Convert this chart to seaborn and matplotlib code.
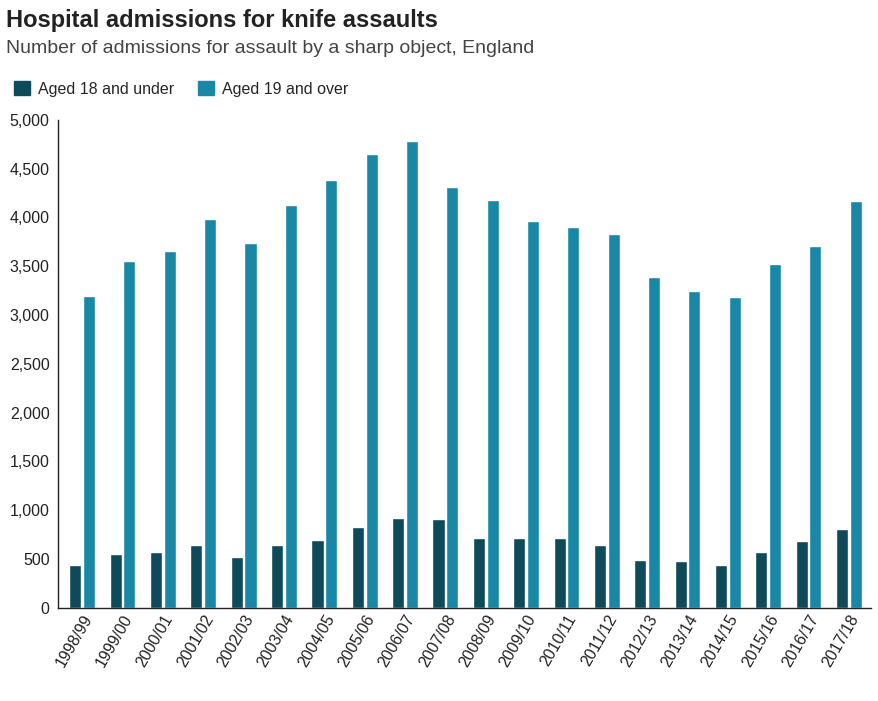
import matplotlib
matplotlib.use("Agg")
import matplotlib.pyplot as plt
import seaborn as sns
import pandas as pd
from matplotlib.patches import Patch

years = ["1998/99","1999/00","2000/01","2001/02","2002/03","2003/04","2004/05","2005/06",
         "2006/07","2007/08","2008/09","2009/10","2010/11","2011/12","2012/13","2013/14",
         "2014/15","2015/16","2016/17","2017/18"]
under18 = [440,550,570,640,520,640,690,830,920,910,710,710,720,640,490,480,440,570,680,810]
over19 = [3200,3550,3660,3980,3740,4130,4380,4650,4780,4310,4180,3960,3900,3830,3390,3250,3180,3520,3710,4170]
groups = ["Aged 18 and under", "Aged 19 and over"]
colors = ["#0f4a5a", "#1888a6"]

df = pd.DataFrame({"year": years*2, "value": under18+over19,
                   "group": [groups[0]]*len(years)+[groups[1]]*len(years)})

sns.set_style("white")
plt.rcParams['font.family'] = ['Liberation Sans', 'DejaVu Sans']
fig = plt.figure(figsize=(8.79, 7.01), dpi=100)
ax = fig.add_axes([0.066, 0.133, 0.925, 0.696])
sns.barplot(data=df, x="year", y="value", hue="group", palette=colors, ax=ax,
            width=0.68, gap=0.12, saturation=1, legend=False)
ax.set_ylim(0, 5000)
ax.set_xlim(-0.6, 19.55)
ax.set_yticks(range(0, 5001, 500))
ax.set_yticklabels([f"{v:,}" for v in range(0, 5001, 500)], fontsize=11.5, color="#222222")
ax.tick_params(axis="x", labelrotation=60, labelsize=11.5, length=0, pad=3)
ax.tick_params(axis="y", length=0, pad=6)
for l in ax.get_xticklabels():
    l.set_ha("right"); l.set_rotation_mode("anchor"); l.set_color("#222222")
ax.set_xlabel(""); ax.set_ylabel("")
sns.despine(ax=ax, top=True, right=True)
for s in ["left", "bottom"]:
    ax.spines[s].set_color("#222222"); ax.spines[s].set_linewidth(1)

fig.text(0.007, 0.962, "Hospital admissions for knife assaults", fontsize=17, fontweight="bold", color="#222222")
fig.text(0.007, 0.925, "Number of admissions for assault by a sharp object, England", fontsize=14, color="#444444")
handles = [Patch(color=c, label=g) for c, g in zip(colors, groups)]
fig.legend(handles=handles, loc="upper left", bbox_to_anchor=(0.0, 0.905), ncol=2, frameon=False,
           fontsize=11.5, handlelength=1.0, handleheight=1.0, handletextpad=0.5, columnspacing=1.5)
fig.savefig("out.png", dpi=100)
